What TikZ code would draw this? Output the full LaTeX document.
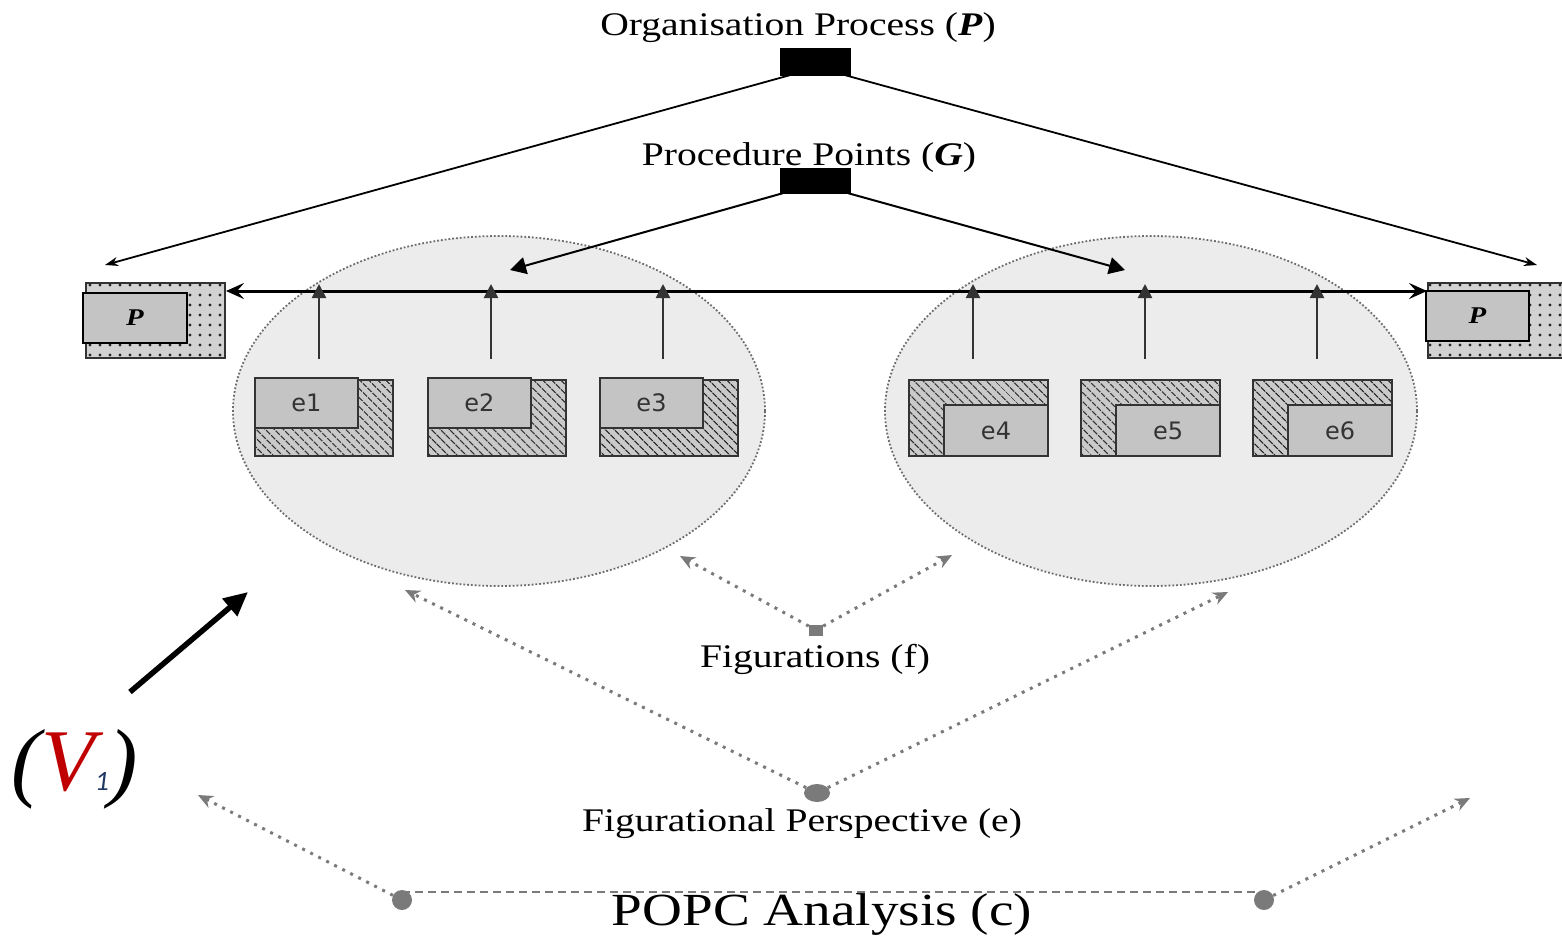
\documentclass[tikz,border=0pt]{standalone}
\usepackage{fontspec}
\newfontfamily\labf[FakeStretch=1.2]{Liberation Serif}
\newfontfamily\boxf{DejaVu Sans}
\newfontfamily\carl{Carlito}
\newfontfamily\vserif{Liberation Serif}
\usetikzlibrary{arrows.meta,patterns.meta,shapes.geometric}
\definecolor{ellfill}{HTML}{ECECEC}
\definecolor{boxgray}{HTML}{C4C4C4}
\definecolor{hatchbg}{HTML}{CACACA}
\definecolor{boxline}{HTML}{333333}
\definecolor{dotgray}{HTML}{7A7A7A}
\definecolor{vred}{HTML}{C00000}
\definecolor{vblue}{HTML}{1F3864}
\begin{document}
\begin{tikzpicture}[x=1pt,y=-1pt,
  blk/.style={fill=black,draw=black,minimum width=70pt,minimum height=26pt,inner sep=0pt},
  lab/.style={font=\labf\fontsize{33}{33}\selectfont,anchor=base,inner sep=0pt},
  ell/.style={ellipse,draw=gray!85!black,dotted,line width=1.8pt,fill=ellfill,minimum width=532pt,minimum height=350pt,inner sep=0pt},
  hatchbox/.style={draw=boxline,line width=2pt,preaction={fill=hatchbg},pattern={Lines[angle=-45,distance=6.5pt,line width=1.4pt]},pattern color=black!85,minimum width=138pt,minimum height=76pt,inner sep=0pt},
  dotbox/.style={draw=boxline,line width=2pt,preaction={fill=hatchbg!85!white},pattern={Dots[distance=10pt,radius=1.7pt]},pattern color=black!85,minimum width=139pt,minimum height=75pt,inner sep=0pt},
  einner/.style={draw=boxline,line width=2pt,fill=boxgray,minimum width=103pt,minimum height=50pt,inner sep=0pt,font=\boxf\fontsize{24}{24}\selectfont,text=boxline},
  pinner/.style={draw=black,line width=2pt,fill=boxgray,minimum width=104pt,minimum height=50pt,inner sep=0pt,font=\labf\fontsize{24}{24}\selectfont\bfseries\itshape},
  thinarr/.style={draw=black,line width=1.8pt,-{Stealth[length=13pt,width=9pt,inset=4pt]}},
  procarr/.style={draw=black,line width=2pt,-{Triangle[length=16pt,width=17pt]}},
  uparr/.style={draw=boxline,line width=2.5pt,-{Triangle[length=14pt,width=14pt]}},
  dotarr/.style={draw=dotgray,line width=3pt,dash pattern=on 3pt off 6pt,-{Stealth[length=15pt,width=13pt]}},
  gdot/.style={fill=dotgray,draw=none,inner sep=0pt}
]
\useasboundingbox (0,0) rectangle (1562,935);

% ellipses
\node[ell] (lell) at (499,411) {};
\node[ell] (rell) at (1151,411) {};

% top process rectangles and labels
\node[lab] (opl) at (798,35) {Organisation Process (\textbf{\textit{P}})};
\node[blk,minimum height=27pt] (op) at (815,61.5) {};
\node[lab] (ppl) at (809,165) {Procedure Points (\textbf{\textit{G}})};
\node[blk,minimum height=25pt] (pp) at (815,180.5) {};

\coordinate (oL) at (105,265);
\coordinate (oR) at (1537,265);
\draw[thinarr] ([xshift=10pt]op.south west) -- (oL);
\draw[thinarr] ([xshift=-5pt]op.south east) -- (oR);

\coordinate (pL) at (510,270);
\coordinate (pR) at (1125,270);
\draw[procarr] ([xshift=3pt]pp.south west) -- (pL);
\draw[procarr] ([xshift=-2pt]pp.south east) -- (pR);

% P boxes
\node[dotbox] (lpo) at (155.5,320.5) {};
\node[pinner] (lpi) at (135,318) {P};
\node[dotbox] (rpo) at (1497.5,320.5) {};
\node[pinner,minimum width=103pt] (rpi) at (1477.5,316) {P};

% horizontal line
\coordinate (hl) at (0,291);
\draw[line width=3pt,{Stealth[length=18pt,width=16pt,inset=7pt]}-{Stealth[length=18pt,width=16pt,inset=7pt]}] (lpo.east |- hl) -- (rpo.west |- hl);

% e boxes left
\node[hatchbox] (e1o) at (324,418) {};
\node[einner] (e1) at (306.5,403) {e1};
\node[hatchbox] (e2o) at (497,418) {};
\node[einner] (e2) at (479.5,403) {e2};
\node[hatchbox] (e3o) at (669,418) {};
\node[einner] (e3) at (651.5,403) {e3};
% e boxes right
\node[hatchbox,minimum width=139pt] (e4o) at (978.5,418) {};
\node[einner,minimum width=104pt,minimum height=51pt] (e4) at (996,430.5) {e4};
\node[hatchbox,minimum width=139pt] (e5o) at (1150.5,418) {};
\node[einner,minimum width=104pt,minimum height=51pt] (e5) at (1168,430.5) {e5};
\node[hatchbox,minimum width=139pt] (e6o) at (1322.5,418) {};
\node[einner,minimum width=104pt,minimum height=51pt] (e6) at (1340,430.5) {e6};

\coordinate (ht) at (0,284);
\foreach \b/\dx in {e1o/-5,e2o/-6,e3o/-6,e4o/-5.5,e5o/-5.5,e6o/-5.5}{
  \draw[uparr] ([xshift=\dx pt,yshift=20pt]\b.north) -- ([xshift=\dx pt]\b.north |- ht);
}

% figurations
\node[gdot,minimum width=14pt,minimum height=11pt] (fsq) at (816,630) {};
\coordinate (fL) at (680,556);
\coordinate (fR) at (952,555);
\draw[dotarr] (fsq) -- (fL);
\draw[dotarr] (fsq) -- (fR);
\node[lab] (fl) at (815,667) {Figurations (f)};

% figurational perspective
\node[gdot,ellipse,minimum width=26pt,minimum height=18pt] (fpd) at (817,793) {};
\coordinate (gL) at (405,590);
\coordinate (gR) at (1228,592);
\draw[dotarr] (fpd) -- (gL);
\draw[dotarr] (fpd) -- (gR);
\node[lab] (fpl) at (802,831) {Figurational Perspective (e)};

% POPC analysis
\node[gdot,circle,minimum size=20pt] (bd1) at (402,900) {};
\node[gdot,circle,minimum size=20pt] (bd2) at (1264,900) {};
\draw[dotgray,line width=1.5pt,dash pattern=on 8pt off 5pt] ([yshift=8pt]bd1.center) -- ([yshift=8pt]bd2.center);
\coordinate (cL) at (198,795);
\coordinate (cR) at (1470,798);
\draw[dotarr] (bd1) -- (cL);
\draw[dotarr] (bd2) -- (cR);
\node[lab,font=\labf\fontsize{46}{46}\selectfont] (popc) at (822,925) {POPC Analysis (c)};

% V1 label and arrow
\node[inner sep=0pt,anchor=base] (v1) at (75,790) {\vserif\itshape\fontsize{88}{88}\selectfont (\textcolor{vred}{V}{\carl\fontsize{28}{28}\selectfont\textcolor{vblue}{1}})};
\coordinate (vs) at (130,692);
\coordinate (ve) at (248,592);
\draw[line width=5.5pt,-{Triangle[length=24pt,width=22pt]}] (vs) -- (ve);
\end{tikzpicture}
\end{document}
